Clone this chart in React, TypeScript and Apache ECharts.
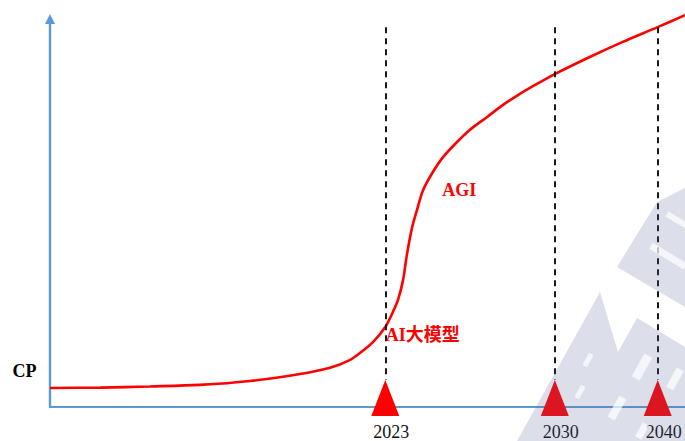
import React, { useEffect, useRef } from "react";
import * as echarts from "echarts";

// Abstract time index (0..100 across the horizontal axis) and capability level (0..100)
const timeIndex = [0, 7.9, 15.7, 23.6, 31.5, 39.4, 44.1, 47.2, 48.8, 50.9, 52.8, 54.0, 54.8, 55.6, 56.2, 57.0, 57.8, 58.7, 60.2, 61.9, 64.1, 66.1, 68.8, 71.3, 73.7, 76.4, 79.5, 85.0, 90.2, 95.7, 100];
const capability = [4.9, 5.0, 5.3, 5.7, 6.7, 8.5, 10.1, 12.1, 13.9, 16.8, 20.6, 24.5, 27.6, 32.7, 39.2, 46.1, 50.8, 55.7, 60.3, 64.4, 68.3, 71.4, 74.7, 77.8, 80.4, 83.0, 85.8, 90.2, 94.1, 97.9, 101.0];

const milestoneYears = ["2023", "2030", "2040"];
const milestoneX = [52.8, 79.5, 95.7];
const milestoneLineTop = 97.9;
const milestoneLineBottom = 7.0;
const milestoneMarkerY = 2.3;

const annotationNames = ["AGI", "AI大模型"];
const annotationX = [61.7, 52.8];
const annotationY = [55.9, 18.6];

const cpLabel = "CP";
const cpLevel = 9.3;

const SERIF = "'Times New Roman', 'Liberation Serif', 'Noto Sans CJK SC', serif";
const BLUE = "#5B9BD5";
const RED = "#FF0000";

function holeRect(cx: number, cy: number, w: number, h: number, rot: number) {
  return {
    type: "rect",
    x: cx,
    y: cy,
    rotation: rot,
    shape: { x: -w / 2, y: -h / 2, width: w, height: h },
    style: { fill: "rgba(255,255,255,0.7)" },
    z: 11,
    silent: true,
  };
}

export default function App() {
  const ref = useRef<HTMLDivElement>(null);

  useEffect(() => {
    if (!ref.current) return;
    const chart = echarts.init(ref.current, undefined, { renderer: "svg" });

    const curve = timeIndex.map((x, i) => [x, capability[i]]);
    const markers = milestoneX.map((x, i) => ({ value: [x, milestoneMarkerY], name: milestoneYears[i] }));
    const annotations = annotationNames.map((n, i) => ({ value: [annotationX[i], annotationY[i]], name: n }));
    const up = (61 * Math.PI) / 180;
    const down = (-31 * Math.PI) / 180;
    const wmFill = "rgba(90,105,150,0.21)";

    chart.setOption({
      animation: false,
      grid: { left: 50, right: 0, top: 19, bottom: 34, containLabel: false },
      xAxis: {
        type: "value",
        min: 0,
        max: 100,
        axisLine: { show: true, lineStyle: { color: BLUE, width: 2.2 } },
        axisTick: { show: false },
        axisLabel: { show: false },
        splitLine: { show: false },
      },
      yAxis: {
        type: "value",
        min: 0,
        max: 100,
        axisLine: {
          show: true,
          symbol: ["none", "triangle"],
          symbolSize: [10, 10],
          lineStyle: { color: BLUE, width: 2.4 },
        },
        axisTick: { show: false },
        axisLabel: { show: false },
        splitLine: { show: false },
      },
      graphic: [
        {
          type: "polygon",
          shape: { points: [[657, 202], [617, 267], [685, 307], [685, 188]] },
          style: { fill: wmFill },
          z: 10,
          silent: true,
        },
        {
          type: "polygon",
          shape: { points: [[600, 292], [618, 352], [637, 318], [685, 347], [685, 441], [517, 441]] },
          style: { fill: wmFill },
          z: 10,
          silent: true,
        },
        holeRect(642, 367, 26, 9, up),
        holeRect(675, 379, 22, 8, up),
        holeRect(617, 408, 24, 8, up),
        holeRect(642, 431, 16, 7, up),
        holeRect(668, 256, 40, 7, down),
        holeRect(677, 220, 24, 6, down),
        holeRect(588, 360, 14, 5, up),
        holeRect(580, 392, 14, 5, up),
      ],
      series: [
        {
          type: "line",
          data: curve,
          smooth: 0.3,
          symbol: "none",
          clip: false,
          lineStyle: { color: RED, width: 2.6 },
          z: 3,
          markLine: {
            silent: true,
            symbol: ["none", "none"],
            label: { show: false },
            lineStyle: { color: "#000", width: 1.8, type: [6, 5] },
            data: milestoneX.map((x) => [{ coord: [x, milestoneLineTop] }, { coord: [x, milestoneLineBottom] }]),
          },
        },
        {
          type: "scatter",
          data: markers,
          symbol: "triangle",
          symbolSize: [28, 36],
          clip: false,
          itemStyle: { color: RED, opacity: 1 },
          z: 4,
          label: {
            show: true,
            position: "bottom",
            distance: 7,
            offset: [6, 0],
            formatter: "{b}",
            color: "#111",
            fontFamily: SERIF,
            fontSize: 18,
          },
        },
        {
          type: "scatter",
          data: annotations,
          symbolSize: 1,
          clip: false,
          itemStyle: { color: "rgba(0,0,0,0)", opacity: 1 },
          z: 5,
          label: {
            show: true,
            position: "right",
            distance: 0,
            formatter: "{b}",
            color: RED,
            fontFamily: SERIF,
            fontWeight: "bold",
            fontSize: 18,
          },
        },
        {
          type: "scatter",
          data: [{ value: [0, cpLevel], name: cpLabel }],
          symbolSize: 1,
          clip: false,
          itemStyle: { color: "rgba(0,0,0,0)", opacity: 1 },
          z: 5,
          label: {
            show: true,
            position: "left",
            distance: 13,
            formatter: "{b}",
            color: "#000",
            fontFamily: SERIF,
            fontWeight: "bold",
            fontSize: 18,
          },
        },
      ],
    });

    return () => chart.dispose();
  }, []);

  return <div ref={ref} style={{ position: "absolute", left: 0, top: 0, width: 685, height: 441 }} />;
}
